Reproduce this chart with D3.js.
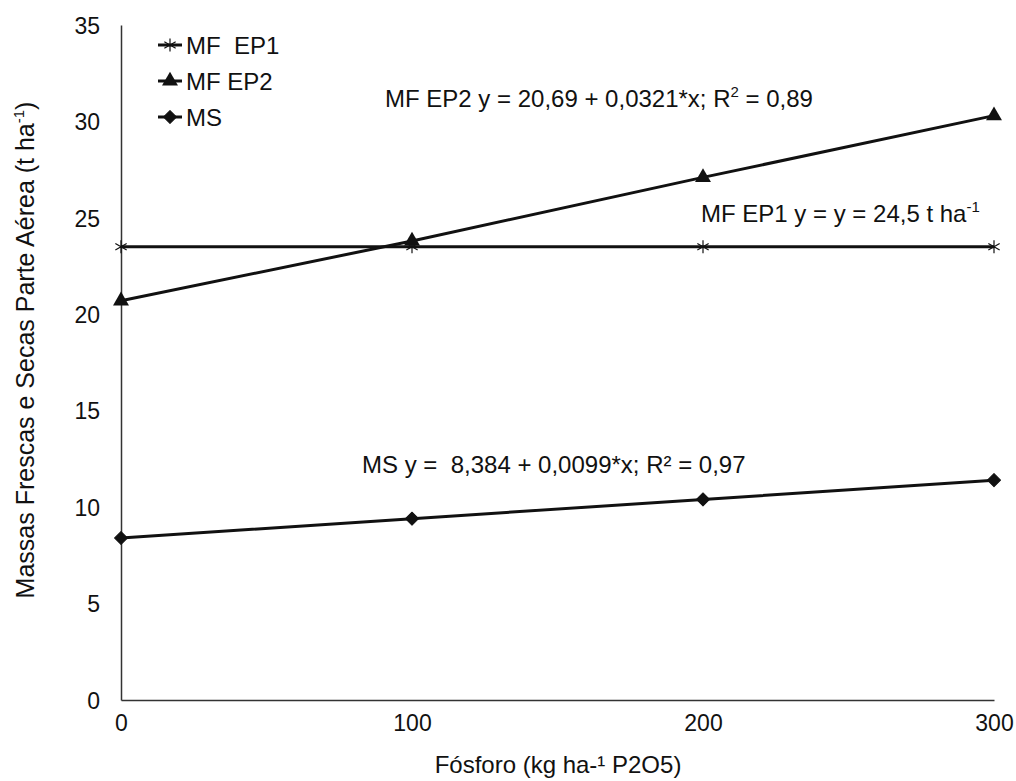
<!DOCTYPE html>
<html>
<head>
<meta charset="utf-8">
<script src="https://cdn.jsdelivr.net/npm/d3@7"></script>
<style>
	body { margin: 0; background: #fff; }
	svg text { font-family: "Liberation Sans", Arial, sans-serif; fill: #111; }
</style>
</head>
<body>
<script>
var doses = [0, 100, 200, 300],
	mfEp1 = [23.5, 23.5, 23.5, 23.5],
	mfEp2 = [20.7, 23.8, 27.1, 30.3],
	ms = [8.4, 9.4, 10.4, 11.4],
	yTicks = [0, 5, 10, 15, 20, 25, 30, 35],
	xTicks = [0, 100, 200, 300];

var series = [
	{ name: 'MF  EP1', values: mfEp1, symbol: 'star' },
	{ name: 'MF EP2', values: mfEp2, symbol: 'triangle' },
	{ name: 'MS', values: ms, symbol: 'diamond' }
];

var width = 1016,
	height = 781,
	margin = { top: 25, right: 22, bottom: 81, left: 121 };

var svg = d3.select('body').append('svg')
	.attr('width', width)
	.attr('height', height);

var x = d3.scaleLinear().domain([0, 300]).range([margin.left, width - margin.right]),
	y = d3.scaleLinear().domain([0, 35]).range([height - margin.bottom, margin.top]);

// axes, no tick marks
var xAxis = svg.append('g')
	.attr('transform', 'translate(0,' + y(0) + ')')
	.call(d3.axisBottom(x).tickValues(xTicks).tickSize(0).tickPadding(15));
var yAxis = svg.append('g')
	.attr('transform', 'translate(' + x(0) + ',0)')
	.call(d3.axisLeft(y).tickValues(yTicks).tickSize(0).tickPadding(21));

[xAxis, yAxis].forEach(function(a) {
	a.select('.domain').attr('stroke', '#333').attr('stroke-width', 1.5);
	a.selectAll('text').style('font-size', '23px').attr('fill', '#111');
});
yAxis.selectAll('text').attr('dy', '0.36em');

svg.append('text')
	.attr('x', 558)
	.attr('y', 773)
	.attr('text-anchor', 'middle')
	.style('font-size', '24px')
	.text('Fósforo (kg ha-¹ P2O5)');

var yTitle = svg.append('text')
	.attr('transform', 'translate(34,350) rotate(-90)')
	.attr('text-anchor', 'middle')
	.style('font-size', '25px');
yTitle.append('tspan').text('Massas Frescas e Secas Parte Aérea (t  ha');
yTitle.append('tspan').attr('dy', -10).style('font-size', '15px').text('-1');
yTitle.append('tspan').attr('dy', 10).text(')');

var line = d3.line()
	.x(function(d, i) { return x(doses[i]); })
	.y(function(d) { return y(d); });

function drawMarker(g, kind) {
	if (kind === 'triangle') {
		g.append('path').attr('d', d3.symbol().type(d3.symbolTriangle).size(110)()).attr('fill', '#111');
	} else if (kind === 'diamond') {
		g.append('path').attr('d', d3.symbol().type(d3.symbolSquare).size(85)())
			.attr('transform', 'rotate(45)')
			.attr('fill', '#111')
			.attr('stroke', '#111').attr('stroke-width', 1).attr('stroke-linejoin', 'round');
	} else {
		g.append('path').attr('d', d3.symbol().type(d3.symbolAsterisk).size(120)())
			.attr('fill', 'none').attr('stroke', '#111').attr('stroke-width', 1.2);
	}
}

series.forEach(function(s) {
	svg.append('path')
		.datum(s.values)
		.attr('d', line)
		.attr('fill', 'none')
		.attr('stroke', '#111')
		.attr('stroke-width', 3);

	svg.selectAll(null)
		.data(s.values)
		.enter().append('g')
		.attr('transform', function(d, i) { return 'translate(' + x(doses[i]) + ',' + y(d) + ')'; })
		.each(function() { drawMarker(d3.select(this), s.symbol); });
});

// legend
var legend = svg.append('g').attr('transform', 'translate(158,45)');
series.forEach(function(s, i) {
	var row = legend.append('g').attr('transform', 'translate(0,' + (i * 36) + ')');
	row.append('line')
		.attr('x1', 0).attr('x2', 24)
		.attr('stroke', '#111').attr('stroke-width', 3);
	drawMarker(row.append('g').attr('transform', 'translate(12,0)'), s.symbol);
	row.append('text')
		.attr('x', 28)
		.attr('dy', '0.36em')
		.style('font-size', '24px')
		.attr('xml:space', 'preserve')
		.text(s.name);
});

// regression labels
var t1 = svg.append('text').attr('x', 385).attr('y', 107).style('font-size', '24px');
t1.append('tspan').text('MF EP2 y = 20,69 + 0,0321*x; R');
t1.append('tspan').attr('dy', -10).style('font-size', '15px').text('2');
t1.append('tspan').attr('dy', 10).text(' = 0,89');

var t2 = svg.append('text').attr('x', 701).attr('y', 222).style('font-size', '24px');
t2.append('tspan').text('MF EP1 y = y = 24,5 t ha');
t2.append('tspan').attr('dy', -10).style('font-size', '15px').text('-1');

svg.append('text').attr('x', 362).attr('y', 473).style('font-size', '24px')
	.attr('xml:space', 'preserve')
	.text('MS y =  8,384 + 0,0099*x; R² = 0,97');
</script>
</body>
</html>
